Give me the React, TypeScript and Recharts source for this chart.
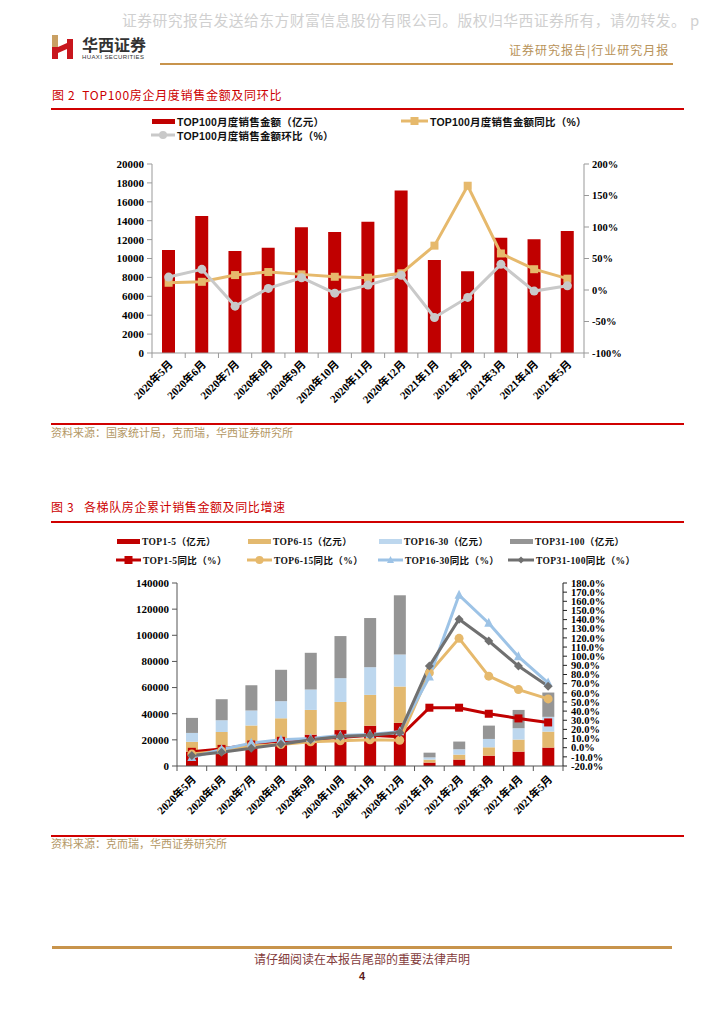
import React from 'react';
import { ComposedChart, Bar, Line, XAxis, YAxis } from 'recharts';

// ---------- data ----------
const months = [
  '2020年5月', '2020年6月', '2020年7月', '2020年8月', '2020年9月', '2020年10月', '2020年11月',
  '2020年12月', '2021年1月', '2021年2月', '2021年3月', '2021年4月', '2021年5月',
];

// Figure 2
const top100Sales = [10900, 14500, 10800, 11150, 13300, 12800, 13900, 17200, 9850, 8650, 12200, 12050, 12900];
const top100Yoy = [11.5, 13, 23.7, 28.5, 24.8, 21, 19.5, 26.5, 70.4, 165.5, 58, 33, 18];
const top100Mom = [20.5, 32.8, -25.6, 2.5, 19.5, -5, 7.8, 23.5, -43.7, -11.8, 40.7, -1.7, 6.7];
const fig2LeftTicks = [0, 2000, 4000, 6000, 8000, 10000, 12000, 14000, 16000, 18000, 20000];
const fig2RightTicks = [-100, -50, 0, 50, 100, 150, 200];

// Figure 3 (cumulative sales by tier, 亿元)
const top1to5 = [11000, 13500, 17000, 21000, 24000, 27500, 30800, 33000, 2600, 4900, 7900, 11000, 14100];
const top6to15 = [7500, 12500, 13900, 15500, 18900, 21500, 23600, 27800, 2300, 3800, 6400, 9200, 12200];
const top16to30 = [6800, 9000, 11500, 13100, 15600, 18200, 21200, 24500, 1700, 4100, 6400, 8700, 11300];
const top31to100 = [11500, 16100, 19400, 24000, 28100, 32200, 37600, 45300, 3600, 5900, 10200, 14000, 18600];
const yoy1to5 = [-4.5, -1.3, 3.5, 7.5, 9.3, 11.1, 13.5, 12, 43.7, 43.7, 37.1, 32, 27.6];
const yoy6to15 = [-7, -3.5, 2, 3.4, 6.4, 7.5, 8.6, 8.2, 81.8, 119.5, 78.2, 63.5, 53.3];
const yoy16to30 = [-10.5, -2, 5, 8.6, 10, 13.3, 14.5, 17.5, 77.5, 166.8, 136, 99.4, 70.9];
const yoy31to100 = [-8.6, -5, -0.5, 3.8, 8.6, 12.2, 13.5, 16.6, 89.2, 140.4, 116.6, 89.2, 67.2];
const fig3LeftTicks = [0, 20000, 40000, 60000, 80000, 100000, 120000, 140000];
const fig3RightTicks = [-20, -10, 0, 10, 20, 30, 40, 50, 60, 70, 80, 90, 100, 110, 120, 130, 140, 150, 160, 170, 180];

const fig2Data = months.map((m, i) => ({
  month: m, sales: top100Sales[i], yoy: top100Yoy[i], mom: top100Mom[i],
}));
const fig3Data = months.map((m, i) => ({
  month: m,
  t1: top1to5[i], t2: top6to15[i], t3: top16to30[i], t4: top31to100[i],
  y1: yoy1to5[i], y2: yoy6to15[i], y3: yoy16to30[i], y4: yoy31to100[i],
}));

// ---------- styles ----------
const RED = '#c00000';
const GOLD = '#e6b96c';
const LGRAY = '#c9c9c9';
const LBLUE = '#bdd7ee';
const LBLUE_LINE = '#9dc3e6';
const BGRAY = '#959595';
const DGRAY = '#707070';
const SERIF = "'Liberation Serif', 'Noto Sans CJK SC', serif";
const CJK = "'Noto Sans CJK SC', sans-serif";

const tickStyle = { fontSize: 11, fontWeight: 700, fill: '#000', fontFamily: SERIF };
const rightTickStyle = { fontSize: 10.5, fontWeight: 700, fill: '#000', fontFamily: SERIF };

const makeXTick = (dx: number, dy: number, color: string, count: number) => (props: any) => {
  const { x, y, payload, index } = props;
  const half = payload && payload.offset ? payload.offset : 0;
  return (
    <g key={`xt${index}`}>
      <line x1={x - half} y1={y} x2={x - half} y2={y + 5} stroke={color} strokeWidth={1} />
      {index === count - 1 ? (
        <line x1={x + half} y1={y} x2={x + half} y2={y + 5} stroke={color} strokeWidth={1} />
      ) : null}
      <text
        x={x + dx}
        y={y + dy}
        textAnchor="end"
        transform={`rotate(-45 ${x + dx} ${y + dy})`}
        style={{ fontSize: 11, fontWeight: 700, fontFamily: SERIF }}
        fill="#000"
      >
        {payload.value}
      </text>
    </g>
  );
};

const squareDot = (color: string, size: number) => (props: any) => {
  const { cx, cy, index } = props;
  if (cx == null || cy == null) return <g key={`sq${index}`} />;
  return <rect key={`sq${index}`} x={cx - size / 2} y={cy - size / 2} width={size} height={size} fill={color} />;
};
const circleDot = (color: string, r: number) => (props: any) => {
  const { cx, cy, index } = props;
  if (cx == null || cy == null) return <g key={`c${index}`} />;
  return <circle key={`c${index}`} cx={cx} cy={cy} r={r} fill={color} />;
};
const triDot = (color: string, s: number) => (props: any) => {
  const { cx, cy, index } = props;
  if (cx == null || cy == null) return <g key={`t${index}`} />;
  return (
    <polygon
      key={`t${index}`}
      points={`${cx},${cy - s * 0.6} ${cx - s / 2},${cy + s * 0.4} ${cx + s / 2},${cy + s * 0.4}`}
      fill={color}
    />
  );
};
const diamondDot = (color: string, s: number) => (props: any) => {
  const { cx, cy, index } = props;
  if (cx == null || cy == null) return <g key={`d${index}`} />;
  return (
    <polygon
      key={`d${index}`}
      points={`${cx},${cy - s / 2} ${cx + s / 2},${cy} ${cx},${cy + s / 2} ${cx - s / 2},${cy}`}
      fill={color}
    />
  );
};

// ---------- page pieces ----------
const abs = (left: number, top: number, extra: React.CSSProperties = {}): React.CSSProperties => ({
  position: 'absolute', left, top, ...extra,
});

const Rule = ({ top, left, width, color, h = 2 }: any) => (
  <div style={abs(left, top, { width, height: h, background: color })} />
);

const LegendRect = ({ left, top, width, color, label, fontFamily, fontSize, spacing = 0 }: any) => (
  <div style={abs(left, top - 7, { display: 'flex', alignItems: 'center', height: 14, whiteSpace: 'nowrap' })}>
    <div style={{ width, height: 5, background: color, marginRight: 2 }} />
    <span style={{ fontSize, fontWeight: 700, fontFamily, color: '#111', letterSpacing: spacing }}>{label}</span>
  </div>
);

const LegendLine = ({ left, top, width, color, label, marker, fontFamily, fontSize, spacing = 0 }: any) => {
  const c = width / 2;
  let m: any = null;
  if (marker === 'square') m = <rect x={c - 4} y={3} width={8} height={8} fill={color} />;
  if (marker === 'circle') m = <circle cx={c} cy={7} r={4} fill={color} />;
  if (marker === 'triangle') m = <polygon points={`${c},3 ${c - 3.5},10 ${c + 3.5},10`} fill={color} />;
  if (marker === 'diamond') m = <polygon points={`${c},3.5 ${c + 3.5},7 ${c},10.5 ${c - 3.5},7`} fill={color} />;
  return (
    <div style={abs(left, top - 7, { display: 'flex', alignItems: 'center', height: 14, whiteSpace: 'nowrap' })}>
      <svg width={width} height={14} style={{ marginRight: 2 }}>
        <line x1={0} y1={7} x2={width} y2={7} stroke={color} strokeWidth={3} />
        {m}
      </svg>
      <span style={{ fontSize, fontWeight: 700, fontFamily, color: '#111', letterSpacing: spacing }}>{label}</span>
    </div>
  );
};

const Logo = () => (
  <svg width={24} height={26} style={abs(51, 34)}>
    <rect x={1} y={1} width={6} height={12} fill="#c9a063" />
    <rect x={1} y={13} width={6} height={12} fill="#c8161d" />
    <rect x={16} y={5} width={6} height={20} fill="#c8161d" />
    <polygon points="7,13 16,9 16,15 7,19" fill="#c8161d" />
  </svg>
);

const Figure2 = () => (
  <div style={abs(0, 140)}>
    <ComposedChart width={724} height={280} data={fig2Data} margin={{ top: 24, right: 80, bottom: 7, left: 92 }}>
      <XAxis
        dataKey="month"
        interval={0}
        height={60}
        tickSize={0}
        tickMargin={0}
        tickLine={false}
        axisLine={{ stroke: '#999' }}
        tick={makeXTick(5, 12, '#999', months.length)}
      />
      <YAxis
        yAxisId="left"
        width={60}
        domain={[0, 20000]}
        ticks={fig2LeftTicks}
        interval={0}
        tick={tickStyle}
        tickSize={5}
        tickMargin={3}
        axisLine={{ stroke: '#999' }}
        tickLine={{ stroke: '#999' }}
      />
      <YAxis
        yAxisId="right"
        orientation="right"
        width={60}
        domain={[-100, 200]}
        ticks={fig2RightTicks}
        interval={0}
        tickFormatter={(v: number) => `${v}%`}
        tick={rightTickStyle}
        tickSize={5}
        tickMargin={3}
        axisLine={{ stroke: '#999' }}
        tickLine={{ stroke: '#999' }}
      />
      <Bar yAxisId="left" dataKey="sales" fill={RED} barSize={13} isAnimationActive={false} />
      <Line
        yAxisId="right"
        dataKey="yoy"
        stroke={GOLD}
        strokeWidth={3}
        dot={squareDot(GOLD, 8)}
        activeDot={false}
        isAnimationActive={false}
      />
      <Line
        yAxisId="right"
        dataKey="mom"
        stroke={LGRAY}
        strokeWidth={3}
        dot={circleDot(LGRAY, 4.5)}
        activeDot={false}
        isAnimationActive={false}
      />
    </ComposedChart>
  </div>
);

const Figure3 = () => (
  <div style={abs(0, 560)}>
    <ComposedChart width={724} height={270} data={fig3Data} margin={{ top: 23, right: 101, bottom: 4, left: 117 }}>
      <XAxis
        dataKey="month"
        interval={0}
        height={60}
        tickSize={0}
        tickMargin={0}
        tickLine={false}
        axisLine={{ stroke: '#555' }}
        tick={makeXTick(5, 14, '#555', months.length)}
      />
      <YAxis
        yAxisId="left"
        width={60}
        domain={[0, 140000]}
        ticks={fig3LeftTicks}
        interval={0}
        tick={tickStyle}
        tickSize={5}
        tickMargin={3}
        axisLine={{ stroke: '#555' }}
        tickLine={{ stroke: '#555' }}
      />
      <YAxis
        yAxisId="right"
        orientation="right"
        width={60}
        domain={[-20, 180]}
        ticks={fig3RightTicks}
        interval={0}
        tickFormatter={(v: number) => `${v.toFixed(1)}%`}
        tick={rightTickStyle}
        tickSize={4}
        tickMargin={4}
        axisLine={{ stroke: '#222' }}
        tickLine={{ stroke: '#222' }}
      />
      <Bar yAxisId="left" dataKey="t1" stackId="s" fill={RED} barSize={12} isAnimationActive={false} />
      <Bar yAxisId="left" dataKey="t2" stackId="s" fill="#e3b96f" barSize={12} isAnimationActive={false} />
      <Bar yAxisId="left" dataKey="t3" stackId="s" fill={LBLUE} barSize={12} isAnimationActive={false} />
      <Bar yAxisId="left" dataKey="t4" stackId="s" fill={BGRAY} barSize={12} isAnimationActive={false} />
      <Line yAxisId="right" dataKey="y1" stroke={RED} strokeWidth={3} dot={squareDot(RED, 8)} activeDot={false} isAnimationActive={false} />
      <Line yAxisId="right" dataKey="y2" stroke={GOLD} strokeWidth={3} dot={circleDot(GOLD, 4.5)} activeDot={false} isAnimationActive={false} />
      <Line yAxisId="right" dataKey="y3" stroke={LBLUE_LINE} strokeWidth={3} dot={triDot(LBLUE_LINE, 9)} activeDot={false} isAnimationActive={false} />
      <Line yAxisId="right" dataKey="y4" stroke={DGRAY} strokeWidth={3} dot={diamondDot(DGRAY, 9)} activeDot={false} isAnimationActive={false} />
    </ComposedChart>
  </div>
);

export default function App() {
  const L1 = "'Liberation Sans', 'Noto Sans CJK SC', sans-serif";
  return (
    <div style={{ position: 'absolute', left: 0, top: 0, width: 724, height: 1024, background: '#fff', overflow: 'hidden' }}>
      {/* watermark */}
      <div style={abs(122, 10, { fontSize: 14.8, color: '#d0d0d0', fontFamily: CJK, whiteSpace: 'nowrap', lineHeight: '20px', letterSpacing: 0.45 })}>
        证券研究报告发送给东方财富信息股份有限公司。版权归华西证券所有，请勿转发。 p
      </div>
      {/* header */}
      <Logo />
      <div style={abs(82, 35, { fontSize: 16, fontWeight: 700, color: '#333', fontFamily: "'Noto Sans CJK SC', serif", lineHeight: '18px', letterSpacing: 0 })}>
        华西证券
      </div>
      <div style={abs(82, 53, { fontSize: 6, color: '#333', fontFamily: "'Liberation Sans', sans-serif", lineHeight: '8px', letterSpacing: 0.4, whiteSpace: 'nowrap' })}>
        HUAXI SECURITIES
      </div>
      <div style={abs(509, 42, { fontSize: 12, color: '#b8935a', fontFamily: CJK, lineHeight: '16px', whiteSpace: 'nowrap', letterSpacing: 1 })}>
        证券研究报告|行业研究月报
      </div>
      <Rule top={63} left={160} width={513} color="#c8944c" h={2} />

      {/* Figure 2 */}
      <div style={abs(52, 87, { fontSize: 12, color: '#cc0000', fontFamily: CJK, lineHeight: '16px', whiteSpace: 'nowrap', letterSpacing: 0.7 })}>
        图 2&nbsp;&nbsp;TOP100房企月度销售金额及同环比
      </div>
      <Rule top={108} left={51} width={633} color="#d00000" h={2} />
      <Figure2 />
      <LegendRect left={152} top={121} width={23} color={RED} label="TOP100月度销售金额（亿元）" fontFamily={L1} fontSize={10.5} spacing={0.2} />
      <LegendLine left={401} top={121} width={27} color={GOLD} marker="square" label="TOP100月度销售金额同比（%）" fontFamily={L1} fontSize={10.5} spacing={0.2} />
      <LegendLine left={151} top={135} width={24} color={LGRAY} marker="circle" label="TOP100月度销售金额环比（%）" fontFamily={L1} fontSize={10.5} spacing={0.2} />
      <Rule top={423} left={51} width={633} color="#d00000" h={2} />
      <div style={abs(51, 425, { fontSize: 11, color: '#b49865', fontFamily: CJK, lineHeight: '14px', whiteSpace: 'nowrap' })}>
        资料来源：国家统计局，克而瑞，华西证券研究所
      </div>

      {/* Figure 3 */}
      <div style={abs(51, 499, { fontSize: 12, color: '#cc0000', fontFamily: CJK, lineHeight: '16px', whiteSpace: 'nowrap', letterSpacing: 0.6 })}>
        图 3&nbsp;&nbsp;&nbsp;各梯队房企累计销售金额及同比增速
      </div>
      <Rule top={521} left={51} width={633} color="#d00000" h={2} />
      <Figure3 />
      <LegendRect left={117} top={541} width={23} color={RED} label="TOP1-5（亿元）" fontFamily={SERIF} fontSize={9.5} spacing={0.4} />
      <LegendRect left={248} top={541} width={23} color="#e3b96f" label="TOP6-15（亿元）" fontFamily={SERIF} fontSize={9.5} spacing={0.4} />
      <LegendRect left={379} top={541} width={23} color={LBLUE} label="TOP16-30（亿元）" fontFamily={SERIF} fontSize={9.5} spacing={0.4} />
      <LegendRect left={510} top={541} width={23} color={BGRAY} label="TOP31-100（亿元）" fontFamily={SERIF} fontSize={9.5} spacing={0.4} />
      <LegendLine left={116} top={560} width={25} color={RED} marker="square" label="TOP1-5同比（%）" fontFamily={SERIF} fontSize={9.5} spacing={0.4} />
      <LegendLine left={247} top={560} width={25} color={GOLD} marker="circle" label="TOP6-15同比（%）" fontFamily={SERIF} fontSize={9.5} spacing={0.4} />
      <LegendLine left={378} top={560} width={25} color={LBLUE_LINE} marker="triangle" label="TOP16-30同比（%）" fontFamily={SERIF} fontSize={9.5} spacing={0.4} />
      <LegendLine left={508} top={560} width={26} color={DGRAY} marker="diamond" label="TOP31-100同比（%）" fontFamily={SERIF} fontSize={9.5} spacing={0.4} />
      <Rule top={835} left={51} width={633} color="#d00000" h={2} />
      <div style={abs(51, 836, { fontSize: 11, color: '#b49865', fontFamily: CJK, lineHeight: '14px', whiteSpace: 'nowrap' })}>
        资料来源：克而瑞，华西证券研究所
      </div>

      {/* footer */}
      <Rule top={946} left={52} width={620} color="#c8944c" h={3} />
      <div style={abs(0, 951, { width: 724, textAlign: 'center', fontSize: 12, color: '#843c3c', fontFamily: CJK, lineHeight: '16px' })}>
        请仔细阅读在本报告尾部的重要法律声明
      </div>
      <div style={abs(0, 969, { width: 724, textAlign: 'center', fontSize: 11, fontWeight: 700, color: '#5a1a1a', fontFamily: "'Liberation Sans', sans-serif", lineHeight: '14px' })}>
        4
      </div>
    </div>
  );
}
